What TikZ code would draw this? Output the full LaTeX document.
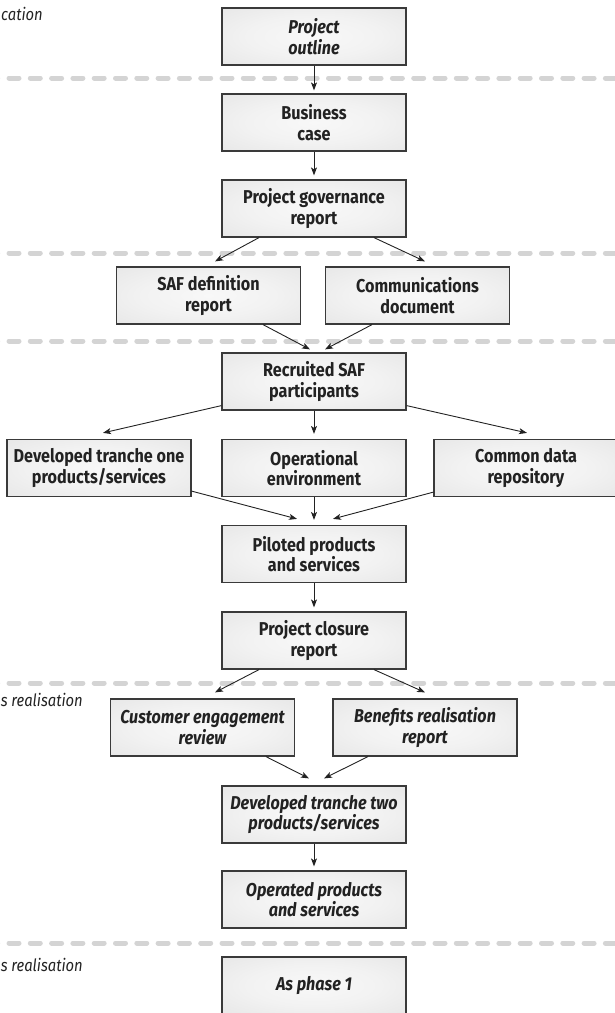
\documentclass[tikz,border=0pt]{standalone}
\usepackage{fontspec}
\setmainfont{Fira Sans}[FakeStretch=0.87]
\usetikzlibrary{arrows.meta,calc}
\definecolor{boxline}{HTML}{3A3A3A}
\definecolor{textc}{HTML}{222222}
\definecolor{dashc}{HTML}{D4D4D4}
\definecolor{arrc}{HTML}{222222}
\definecolor{shA}{HTML}{F8F8F8}
\definecolor{shB}{HTML}{F2F2F2}
\definecolor{shC}{HTML}{DFDFDF}
\definecolor{shD}{HTML}{D3D3D3}
\pgfdeclareradialshading{boxshade}{\pgfpoint{0bp}{0bp}}{color(0bp)=(shA); color(18bp)=(shB); color(50bp)=(shC); color(71bp)=(shD)}
\begin{document}
\begin{tikzpicture}[x=1pt,y=-1pt,
  box/.style={draw=boxline, line width=1.2pt, minimum width=184pt, minimum height=57pt,
    inner sep=0pt, align=center, text=textc, shading=boxshade,
    font=\fontsize{18.6}{20.5}\selectfont\bfseries},
  ibox/.style={box, font=\fontsize{18.6}{20.5}\selectfont\bfseries\itshape},
  arr/.style={draw=arrc, line width=0.9pt, -{Stealth[length=8pt,width=6pt,inset=2pt]}},
  phase/.style={draw=dashc, line width=5pt, line cap=round, dash pattern=on 10pt off 11.3pt},
  lab/.style={font=\fontsize{17}{19}\selectfont\itshape, text=textc, inner sep=0pt}]
\useasboundingbox (0,0) rectangle (614,1013);

% phase separators
\foreach \yy in {78,253,341,683,943}
  \draw[phase] (-12.3,\yy) -- (640,\yy);

% phase labels (cropped at the left edge)
\node[lab, anchor=base east] (l1) at (43,20) {cation};
\node[lab, anchor=base east] (l2) at (83,706) {s realisation};
\node[lab, anchor=base east] (l3) at (83,971) {s realisation};

% boxes
\node[ibox] (po)  at (314,36.5)  {Project\\outline};
\node[box]  (bc)  at (314,122.5) {Business\\case};
\node[box]  (pg)  at (314,208.5) {Project governance\\report};
\node[box]  (saf) at (208.5,295.5) {SAF definition\\report};
\node[box]  (com) at (417.5,295.5) {Communications\\document};
\node[box]  (rec) at (314,381.5) {Recruited SAF\\participants};
\node[box]  (dt1) at (99,468)    {Developed tranche one\\products/services};
\node[box]  (ope) at (314,468)   {Operational\\environment};
\node[box]  (cdr) at (526,468)   {Common data\\repository};
\node[box]  (pil) at (314,554)   {Piloted products\\and services};
\node[box]  (pcr) at (314,640.5) {Project closure\\report};
\node[ibox] (cer) at (202.5,727.5) {Customer engagement\\review};
\node[ibox] (brr) at (425,727.5) {Benefits realisation\\report};
\node[ibox] (dt2) at (314,814.5) {Developed tranche two\\products/services};
\node[ibox] (opr) at (314,899.5) {Operated products\\and services};
\node[ibox] (ap1) at (314,985.5) {As phase 1};

% connectors
\draw[arr] (po.south) -- ([yshift=3pt]bc.north);
\draw[arr] (bc.south) -- ([yshift=4pt]pg.north);
\draw[arr] ([xshift=-55pt]pg.south) -- ([xshift=6.5pt,yshift=5pt]saf.north);
\draw[arr] ([xshift=60pt]pg.south) -- ([xshift=7.5pt,yshift=5pt]com.north);
\draw[arr] ([xshift=54.5pt]saf.south) -- ([xshift=-4pt,yshift=3pt]rec.north);
\draw[arr] ([xshift=-45.5pt]com.south) -- ([xshift=11pt,yshift=3pt]rec.north);
\draw[arr] ([yshift=5pt]rec.south west) -- ([xshift=4pt,yshift=6pt]dt1.north);
\draw[arr] (rec.south) -- ([yshift=5pt]ope.north);
\draw[arr] ([yshift=5pt]rec.south east) -- ([xshift=1pt,yshift=6pt]cdr.north);
\draw[arr] ([yshift=6pt]dt1.south east) -- ([xshift=-17pt,yshift=6pt]pil.north);
\draw[arr] (ope.south) -- ([yshift=5pt]pil.north);
\draw[arr] ([yshift=5pt]cdr.south west) -- ([xshift=19pt,yshift=6pt]pil.north);
\draw[arr] (pil.south) -- ([yshift=4pt]pcr.north);
\draw[arr] ([xshift=-55pt]pcr.south) -- ([xshift=12.5pt,yshift=6pt]cer.north);
\draw[arr] ([xshift=60pt]pcr.south) -- ([yshift=6pt]brr.north);
\draw[arr] ([xshift=63.5pt]cer.south) -- ([xshift=-5pt,yshift=7pt]dt2.north);
\draw[arr] ([xshift=-57pt]brr.south) -- ([xshift=10pt,yshift=7pt]dt2.north);
\draw[arr] (dt2.south) -- ([yshift=4pt]opr.north);
\end{tikzpicture}
\end{document}
